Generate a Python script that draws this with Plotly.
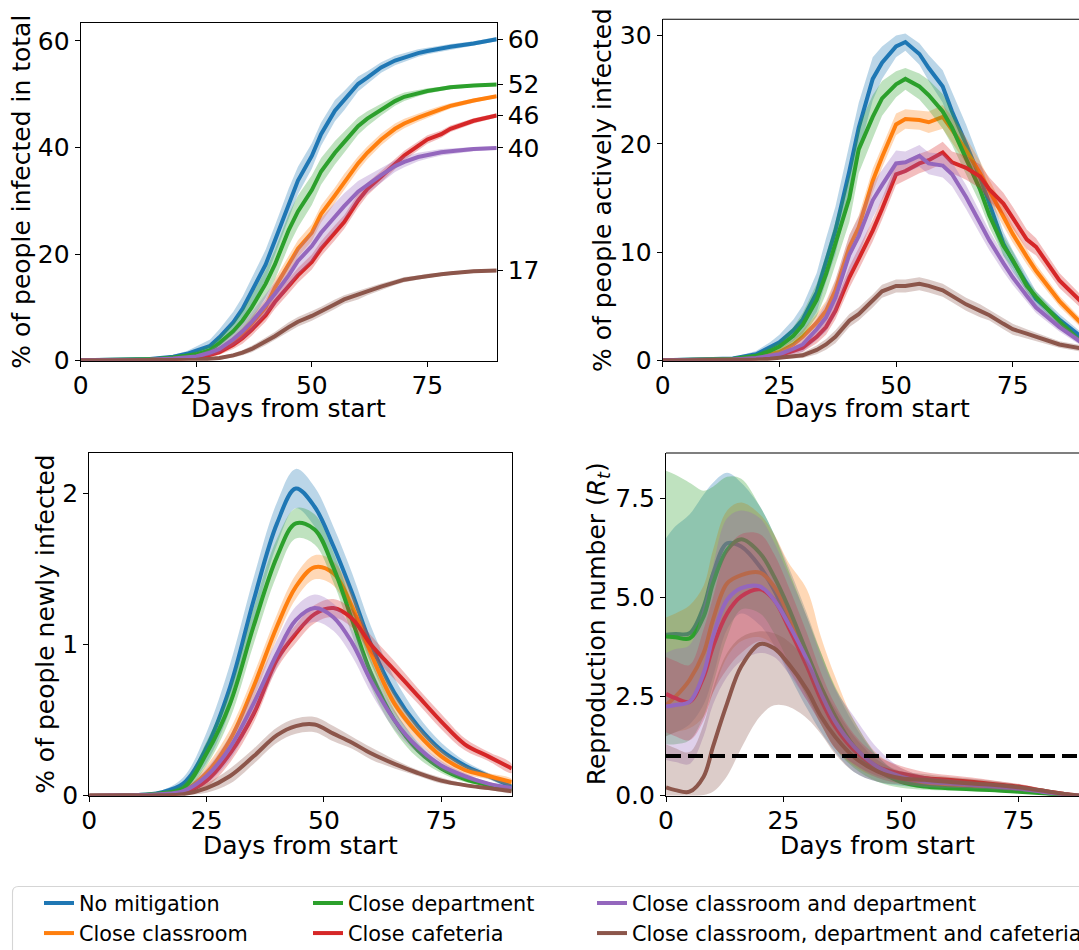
import plotly.graph_objects as go

W, H = 1079, 950
FONT = "DejaVu Sans"

NAMES = ["No mitigation", "Close classroom", "Close department", "Close cafeteria",
         "Close classroom and department", "Close classroom, department and cafeteria"]
COLORS = ["#1f77b4", "#ff7f0e", "#2ca02c", "#d62728", "#9467bd", "#8c564b"]
LEGEND_OF = ["legend", "legend", "legend2", "legend2", "legend3", "legend3"]

# ---------------- top row: total and active infections ----------------
DAYS_TOP = [0, 10, 15, 20, 23, 25, 28, 30, 33, 35, 37, 40, 42, 45, 47, 50, 52, 55, 57, 60,
            62, 65, 68, 70, 73, 75, 78, 80, 85, 90]

TOTAL_NO_MIT = [0.1, 0.15, 0.3, 0.75, 1.3, 1.9, 2.8, 4.4, 7.2, 9.7, 13, 18, 22.5, 29.5, 33.8, 38.4, 42.5, 46.9, 48.8, 51.9,
                53.1, 55, 56.3, 56.9, 57.7, 58.1, 58.6, 58.9, 59.5, 60.3]
TOTAL_CLASSROOM = [0.1, 0.1, 0.2, 0.35, 0.5, 0.6, 1.2, 1.8, 3.5, 5, 7, 10, 13.7, 18, 21, 24, 27.5, 31, 33.5, 37,
                   39, 41.5, 43.5, 44.5, 45.6, 46.3, 47.2, 47.8, 48.8, 49.6]
TOTAL_DEPT = [0.1, 0.12, 0.25, 0.6, 0.9, 1.2, 2.0, 3.3, 5.5, 7.5, 10, 14.4, 18, 24.5, 28, 32, 35.5, 39, 41, 44,
              45.4, 47.1, 48.7, 49.5, 50.2, 50.6, 51.0, 51.3, 51.6, 51.8]
TOTAL_CAFE = [0.1, 0.1, 0.15, 0.3, 0.45, 0.6, 1.1, 1.6, 3, 4.2, 5.8, 8.5, 11, 14, 16, 18.5, 21, 24, 26, 30,
              32.2, 34.5, 36.9, 38.5, 40.3, 41.5, 42.5, 43.5, 45, 46.0]
TOTAL_CLS_DEPT = [0.1, 0.1, 0.2, 0.4, 0.6, 0.8, 1.5, 2.2, 4, 5.5, 7.3, 10.5, 12.5, 16, 18.7, 21.5, 24, 27, 29, 31.7,
                  33, 34.8, 36.5, 37.3, 38.2, 38.6, 39.1, 39.3, 39.7, 39.9]
TOTAL_ALL = [0.05, 0.05, 0.08, 0.1, 0.15, 0.2, 0.35, 0.5, 1.0, 1.5, 2.2, 3.6, 4.6, 6.3, 7.3, 8.4, 9.2, 10.6, 11.5, 12.3,
             13.0, 13.9, 14.7, 15.2, 15.6, 15.9, 16.2, 16.4, 16.8, 16.9]

HW_TOTAL_NO_MIT = [0, 0.05, 0.1, 0.3, 0.5, 0.8, 1.2, 1.5, 2, 2.3, 2.5, 2.8, 2.8, 2.8, 2.6, 2.4, 2.2, 2, 1.8, 1.4,
                   1.2, 1, 0.9, 0.8, 0.7, 0.6, 0.5, 0.5, 0.4, 0.4]
HW_TOTAL_CLASSROOM = [0, 0.03, 0.05, 0.15, 0.25, 0.3, 0.5, 0.7, 1.0, 1.2, 1.3, 1.5, 1.6, 1.6, 1.6, 1.6, 1.6, 1.5, 1.5, 1.3,
                      1.2, 1.1, 1.0, 0.9, 0.8, 0.7, 0.6, 0.5, 0.4, 0.3]
HW_TOTAL_DEPT = [0, 0.05, 0.1, 0.3, 0.4, 0.6, 0.9, 1.2, 1.6, 2, 2.3, 2.6, 2.8, 3, 3, 2.8, 2.5, 2.2, 2, 1.6,
                 1.4, 1.1, 0.9, 0.8, 0.6, 0.5, 0.4, 0.4, 0.3, 0.3]
HW_TOTAL_CAFE = [0, 0.03, 0.05, 0.1, 0.15, 0.2, 0.4, 0.5, 0.8, 1.0, 1.1, 1.2, 1.3, 1.4, 1.4, 1.4, 1.4, 1.4, 1.3, 1.3,
                 1.2, 1.1, 1.0, 0.9, 0.8, 0.8, 0.7, 0.6, 0.5, 0.4]
HW_TOTAL_CLS_DEPT = [0, 0.03, 0.05, 0.15, 0.25, 0.3, 0.6, 0.8, 1.2, 1.5, 1.8, 2.0, 2.2, 2.4, 2.6, 2.8, 2.8, 2.6, 2.4, 2.0,
                     1.7, 1.4, 1.1, 1.0, 0.8, 0.7, 0.6, 0.5, 0.4, 0.3]
HW_TOTAL_ALL = [0, 0.02, 0.03, 0.05, 0.08, 0.1, 0.2, 0.3, 0.4, 0.5, 0.6, 0.7, 0.8, 0.9, 0.9, 0.9, 0.9, 0.9, 0.8, 0.8,
                0.7, 0.6, 0.5, 0.5, 0.4, 0.4, 0.3, 0.3, 0.3, 0.3]

ACTIVE_NO_MIT = [0.05, 0.1, 0.2, 0.6, 1.2, 1.7, 2.8, 3.8, 6.3, 9.3, 12, 17.5, 21.5, 26, 27.5, 29, 29.4, 28.3, 27, 25.3,
                 23, 20, 16.9, 14.5, 10.8, 9.2, 7.2, 5.7, 3.8, 2.1]
ACTIVE_CLASSROOM = [0.03, 0.05, 0.1, 0.3, 0.55, 0.8, 1.5, 2.2, 3.5, 4.6, 6.5, 10.5, 12.3, 16.6, 18.8, 21.8, 22.3, 22.2, 22, 22.5,
                    21.3, 19.4, 17.3, 15.7, 13.3, 11.7, 9.6, 8.3, 5.5, 3.3]
ACTIVE_DEPT = [0.05, 0.08, 0.15, 0.45, 0.9, 1.3, 2.3, 3.3, 5.6, 8, 10.8, 15, 19.5, 22.5, 24.2, 25.5, 26, 25.3, 24.5, 23,
               21.5, 18.7, 15.8, 13.4, 10.6, 9.3, 6.9, 5.9, 3.6, 1.6]
ACTIVE_CAFE = [0.03, 0.04, 0.08, 0.2, 0.35, 0.5, 0.9, 1.2, 2.2, 3.1, 4.6, 7.7, 9.4, 12, 14, 17.2, 17.5, 18.2, 18.5, 19.2,
               18.3, 17.8, 17, 15.8, 14.5, 13.2, 11.2, 10.5, 7.4, 5.3]
ACTIVE_CLS_DEPT = [0.03, 0.05, 0.1, 0.25, 0.45, 0.6, 1.1, 1.5, 2.9, 4, 5.8, 9.8, 11.5, 14.8, 16.2, 18.2, 18.3, 18.9, 18.2, 18,
                   17.2, 15.1, 12.7, 11.1, 9, 7.7, 6, 4.9, 3.1, 1.6]
ACTIVE_ALL = [0.02, 0.02, 0.04, 0.1, 0.17, 0.25, 0.4, 0.5, 1.0, 1.5, 2.2, 3.7, 4.3, 5.5, 6.4, 6.9, 6.9, 7.1, 6.9, 6.5,
              6, 5.2, 4.6, 4.2, 3.4, 2.9, 2.5, 2.2, 1.5, 1.1]

HW_ACTIVE_NO_MIT = [0, 0.05, 0.1, 0.3, 0.5, 0.7, 1, 1.3, 1.8, 2, 2.2, 2.3, 2.3, 2, 1.5, 1, 0.8, 1, 1.2, 1.5,
                    1.8, 1.8, 1.5, 1.3, 1.1, 1, 0.8, 0.7, 0.5, 0.4]
HW_ACTIVE_CLASSROOM = [0, 0.03, 0.05, 0.1, 0.2, 0.3, 0.5, 0.6, 0.8, 0.9, 1, 1.1, 1.1, 1.1, 1, 1, 0.9, 0.9, 1, 1.1,
                       1.2, 1.2, 1.1, 1, 0.9, 0.8, 0.7, 0.6, 0.5, 0.4]
HW_ACTIVE_DEPT = [0, 0.04, 0.08, 0.2, 0.4, 0.5, 0.8, 1.1, 1.5, 1.8, 2, 2.2, 2.2, 2, 1.6, 1.2, 1, 1.2, 1.4, 1.6,
                  1.6, 1.5, 1.3, 1.1, 0.9, 0.8, 0.6, 0.5, 0.4, 0.3]
HW_ACTIVE_CAFE = [0, 0.02, 0.04, 0.1, 0.15, 0.2, 0.3, 0.4, 0.6, 0.7, 0.8, 1, 1, 1, 1, 1, 0.9, 0.9, 0.9, 1,
                  1, 1.1, 1.1, 1.1, 1, 1, 0.9, 0.8, 0.7, 0.6]
HW_ACTIVE_CLS_DEPT = [0, 0.03, 0.05, 0.12, 0.2, 0.3, 0.5, 0.7, 1, 1.3, 1.6, 1.8, 1.8, 1.6, 1.4, 1.2, 1, 1, 1, 1.1,
                      1.1, 1.1, 1, 0.9, 0.8, 0.7, 0.6, 0.5, 0.4, 0.3]
HW_ACTIVE_ALL = [0, 0.01, 0.02, 0.05, 0.08, 0.1, 0.2, 0.25, 0.4, 0.5, 0.6, 0.6, 0.6, 0.6, 0.6, 0.6, 0.6, 0.6, 0.6, 0.6,
                 0.6, 0.6, 0.6, 0.5, 0.5, 0.5, 0.4, 0.4, 0.3, 0.3]

# ---------------- bottom left: newly infected ----------------
DAYS_NEW = [0, 5, 10, 15, 20, 25, 30, 35, 40, 44, 48, 52, 56, 60, 65, 70, 75, 80, 85, 90]
NEW_NO_MIT = [0, 0.002, 0.005, 0.02, 0.08, 0.32, 0.72, 1.29, 1.8, 2.03, 1.91, 1.65, 1.34, 1.0, 0.68, 0.46, 0.3, 0.2, 0.13, 0.06]
NEW_CLASSROOM = [0, 0.001, 0.003, 0.008, 0.03, 0.15, 0.37, 0.72, 1.12, 1.38, 1.51, 1.47, 1.25, 0.94, 0.61, 0.41, 0.26, 0.17, 0.13, 0.09]
NEW_DEPT = [0, 0.002, 0.004, 0.015, 0.05, 0.28, 0.61, 1.12, 1.58, 1.8, 1.76, 1.51, 1.16, 0.81, 0.5, 0.3, 0.18, 0.11, 0.07, 0.04]
NEW_CAFE = [0, 0.001, 0.002, 0.006, 0.02, 0.1, 0.28, 0.54, 0.9, 1.07, 1.2, 1.24, 1.17, 1.0, 0.83, 0.66, 0.49, 0.34, 0.26, 0.18]
NEW_CLS_DEPT = [0, 0.001, 0.003, 0.01, 0.03, 0.13, 0.32, 0.61, 0.94, 1.16, 1.24, 1.18, 1.01, 0.76, 0.5, 0.32, 0.2, 0.13, 0.08, 0.05]
NEW_ALL = [0, 0, 0.001, 0.003, 0.01, 0.05, 0.13, 0.26, 0.4, 0.46, 0.47, 0.41, 0.35, 0.28, 0.21, 0.15, 0.1, 0.07, 0.05, 0.03]

HW_NEW_NO_MIT = [0, 0.001, 0.003, 0.01, 0.04, 0.1, 0.15, 0.15, 0.14, 0.13, 0.13, 0.13, 0.13, 0.12, 0.1, 0.07, 0.05, 0.03, 0.02, 0.01]
HW_NEW_CLASSROOM = [0, 0, 0.001, 0.004, 0.015, 0.05, 0.07, 0.08, 0.08, 0.08, 0.08, 0.08, 0.08, 0.07, 0.06, 0.05, 0.04, 0.03, 0.02, 0.02]
HW_NEW_DEPT = [0, 0.001, 0.002, 0.008, 0.03, 0.08, 0.1, 0.12, 0.12, 0.1, 0.1, 0.1, 0.1, 0.09, 0.07, 0.05, 0.03, 0.02, 0.01, 0.01]
HW_NEW_CAFE = [0, 0, 0.001, 0.003, 0.01, 0.04, 0.06, 0.06, 0.06, 0.06, 0.06, 0.06, 0.06, 0.06, 0.06, 0.05, 0.05, 0.04, 0.03, 0.03]
HW_NEW_CLS_DEPT = [0, 0, 0.001, 0.005, 0.015, 0.05, 0.08, 0.09, 0.09, 0.09, 0.09, 0.09, 0.09, 0.08, 0.06, 0.04, 0.03, 0.02, 0.01, 0.01]
HW_NEW_ALL = [0, 0, 0, 0.002, 0.006, 0.03, 0.05, 0.05, 0.05, 0.05, 0.05, 0.05, 0.04, 0.04, 0.03, 0.02, 0.02, 0.01, 0.01, 0.01]

# ---------------- bottom right: reproduction number ----------------
DAYS_RT = [0, 2, 5, 8, 10, 13, 16, 20, 23, 26, 30, 33, 36, 40, 45, 50, 55, 60, 65, 70, 75, 80, 85, 88, 90]
RT_NO_MIT = [4.06, 4.08, 4.1, 4.77, 5.6, 6.37, 6.29, 5.78, 5.19, 4.44, 3.34, 2.5, 1.83, 1.15, 0.65, 0.4, 0.27, 0.21, 0.19, 0.16, 0.13, 0.08, 0.02, 0, 0]
RT_CLASSROOM = [2.29, 2.5, 2.92, 3.6, 4.44, 5.36, 5.57, 5.63, 5.28, 4.6, 3.51, 2.67, 1.91, 1.24, 0.73, 0.48, 0.33, 0.27, 0.23, 0.19, 0.14, 0.09, 0.03, 0, 0]
RT_DEPT = [4.02, 4.0, 3.97, 4.52, 5.36, 6.2, 6.47, 6.12, 5.53, 4.77, 3.6, 2.75, 2.0, 1.24, 0.65, 0.35, 0.23, 0.19, 0.16, 0.14, 0.1, 0.06, 0.01, 0, 0]
RT_CAFE = [2.57, 2.46, 2.37, 3.0, 3.76, 4.6, 5.03, 5.21, 4.94, 4.27, 3.26, 2.42, 1.74, 1.15, 0.73, 0.56, 0.45, 0.4, 0.35, 0.29, 0.23, 0.13, 0.04, 0, 0]
RT_CLS_DEPT = [2.25, 2.29, 2.37, 3.09, 4.02, 4.94, 5.24, 5.28, 4.94, 4.35, 3.43, 2.58, 1.87, 1.24, 0.73, 0.48, 0.35, 0.31, 0.27, 0.23, 0.18, 0.1, 0.03, 0, 0]
RT_ALL = [0.21, 0.14, 0.1, 0.48, 1.24, 2.33, 3.26, 3.83, 3.72, 3.34, 2.67, 2.0, 1.49, 0.98, 0.61, 0.44, 0.4, 0.35, 0.31, 0.27, 0.21, 0.13, 0.04, 0, 0]

RT_NO_MIT_HI = [6.5, 6.8, 7.1, 7.6, 7.9, 8.15, 7.9, 7.3, 6.6, 5.8, 4.6, 3.6, 2.7, 1.8, 1.0, 0.55, 0.35, 0.27, 0.24, 0.2, 0.17, 0.11, 0.04, 0, 0]
RT_NO_MIT_LO = [1.5, 1.6, 1.8, 2.3, 3.0, 4.2, 4.6, 4.3, 3.8, 3.1, 2.2, 1.6, 1.1, 0.6, 0.35, 0.25, 0.2, 0.16, 0.14, 0.12, 0.09, 0.05, 0, 0, 0]
RT_CLASSROOM_HI = [4.5, 4.6, 4.8, 5.3, 6.2, 7.2, 7.4, 7.1, 6.6, 5.9, 5.2, 4.0, 3.0, 1.9, 1.05, 0.7, 0.48, 0.38, 0.32, 0.26, 0.2, 0.13, 0.05, 0, 0]
RT_CLASSROOM_LO = [1.5, 1.6, 1.7, 2.0, 2.6, 3.5, 3.9, 4.0, 3.8, 3.3, 2.5, 1.8, 1.2, 0.75, 0.45, 0.3, 0.22, 0.18, 0.15, 0.12, 0.09, 0.05, 0.01, 0, 0]
RT_DEPT_HI = [8.2, 8.1, 7.9, 7.7, 7.8, 8.05, 8.0, 7.3, 6.6, 5.7, 4.5, 3.6, 2.75, 1.9, 1.0, 0.52, 0.3, 0.24, 0.2, 0.18, 0.13, 0.08, 0.02, 0, 0]
RT_DEPT_LO = [1.3, 1.3, 1.4, 2.0, 2.8, 4.0, 4.7, 4.6, 4.1, 3.4, 2.5, 1.8, 1.2, 0.7, 0.35, 0.2, 0.15, 0.13, 0.11, 0.1, 0.07, 0.04, 0, 0, 0]
RT_CAFE_HI = [3.5, 3.4, 3.3, 4.2, 5.0, 6.2, 6.6, 6.6, 6.1, 5.3, 4.1, 3.1, 2.3, 1.55, 1.0, 0.75, 0.6, 0.52, 0.46, 0.38, 0.3, 0.18, 0.06, 0, 0]
RT_CAFE_LO = [1.6, 1.5, 1.4, 1.9, 2.6, 3.2, 3.6, 3.9, 3.7, 3.2, 2.4, 1.8, 1.2, 0.8, 0.5, 0.38, 0.3, 0.28, 0.24, 0.2, 0.16, 0.08, 0.02, 0, 0]
RT_CLS_DEPT_HI = [3.6, 3.7, 3.8, 4.8, 5.8, 7.0, 7.2, 7.0, 6.4, 5.6, 4.5, 3.5, 2.7, 2.0, 1.2, 0.7, 0.5, 0.42, 0.36, 0.3, 0.24, 0.14, 0.05, 0, 0]
RT_CLS_DEPT_LO = [0.9, 0.85, 0.8, 1.5, 2.3, 3.0, 3.4, 3.6, 3.5, 3.1, 2.4, 1.8, 1.2, 0.8, 0.45, 0.3, 0.22, 0.2, 0.18, 0.15, 0.12, 0.06, 0.01, 0, 0]
RT_ALL_HI = [1.3, 1.2, 1.1, 1.8, 2.7, 3.6, 4.0, 4.15, 4.1, 3.9, 3.4, 2.8, 2.2, 1.5, 0.9, 0.62, 0.55, 0.48, 0.43, 0.37, 0.29, 0.18, 0.06, 0, 0]
RT_ALL_LO = [0, 0, 0, 0.02, 0.1, 0.5, 1.2, 2.0, 2.28, 2.25, 1.95, 1.55, 1.05, 0.6, 0.35, 0.28, 0.25, 0.22, 0.2, 0.17, 0.13, 0.07, 0.01, 0, 0]
RT_THRESHOLD = 1.0

X_TICKS = [0, 25, 50, 75]


def rgba(hexcol, a):
    h = hexcol.lstrip("#")
    return "rgba(%d,%d,%d,%.2f)" % (int(h[0:2], 16), int(h[2:4], 16), int(h[4:6], 16), a)


fig = go.Figure()


def add_series(xs, mean, lo, hi, i, xa, ya, shape, showlegend):
    color = COLORS[i]
    fig.add_trace(go.Scatter(
        x=list(xs) + list(xs)[::-1], y=list(hi) + list(lo)[::-1], fill="toself",
        fillcolor=rgba(color, 0.3), mode="lines", line=dict(width=0, shape=shape, color=rgba(color, 0)),
        hoverinfo="skip", showlegend=False, xaxis=xa, yaxis=ya))
    fig.add_trace(go.Scatter(
        x=xs, y=mean, mode="lines", line=dict(color=color, width=4, shape=shape),
        name=NAMES[i], showlegend=showlegend, legend=LEGEND_OF[i], xaxis=xa, yaxis=ya))


def sym(mean, hw):
    return [m - h for m, h in zip(mean, hw)], [m + h for m, h in zip(mean, hw)]


TOTAL = [TOTAL_NO_MIT, TOTAL_CLASSROOM, TOTAL_DEPT, TOTAL_CAFE, TOTAL_CLS_DEPT, TOTAL_ALL]
HW_TOTAL = [HW_TOTAL_NO_MIT, HW_TOTAL_CLASSROOM, HW_TOTAL_DEPT, HW_TOTAL_CAFE, HW_TOTAL_CLS_DEPT, HW_TOTAL_ALL]
ACTIVE = [ACTIVE_NO_MIT, ACTIVE_CLASSROOM, ACTIVE_DEPT, ACTIVE_CAFE, ACTIVE_CLS_DEPT, ACTIVE_ALL]
HW_ACTIVE = [HW_ACTIVE_NO_MIT, HW_ACTIVE_CLASSROOM, HW_ACTIVE_DEPT, HW_ACTIVE_CAFE, HW_ACTIVE_CLS_DEPT, HW_ACTIVE_ALL]
NEW = [NEW_NO_MIT, NEW_CLASSROOM, NEW_DEPT, NEW_CAFE, NEW_CLS_DEPT, NEW_ALL]
HW_NEW = [HW_NEW_NO_MIT, HW_NEW_CLASSROOM, HW_NEW_DEPT, HW_NEW_CAFE, HW_NEW_CLS_DEPT, HW_NEW_ALL]
RT = [RT_NO_MIT, RT_CLASSROOM, RT_DEPT, RT_CAFE, RT_CLS_DEPT, RT_ALL]
RT_LO = [RT_NO_MIT_LO, RT_CLASSROOM_LO, RT_DEPT_LO, RT_CAFE_LO, RT_CLS_DEPT_LO, RT_ALL_LO]
RT_HI = [RT_NO_MIT_HI, RT_CLASSROOM_HI, RT_DEPT_HI, RT_CAFE_HI, RT_CLS_DEPT_HI, RT_ALL_HI]

for i in range(6):
    lo, hi = sym(TOTAL[i], HW_TOTAL[i])
    add_series(DAYS_TOP, TOTAL[i], lo, hi, i, "x", "y", "linear", True)
for i in range(6):
    lo, hi = sym(ACTIVE[i], HW_ACTIVE[i])
    add_series(DAYS_TOP, ACTIVE[i], lo, hi, i, "x2", "y2", "linear", False)
for i in range(6):
    lo, hi = sym(NEW[i], HW_NEW[i])
    add_series(DAYS_NEW, NEW[i], lo, hi, i, "x3", "y3", "spline", False)
for i in range(6):
    add_series(DAYS_RT, RT[i], RT_LO[i], RT_HI[i], i, "x4", "y4", "spline", False)

fig.add_trace(go.Scatter(x=[DAYS_RT[0], DAYS_RT[-1]], y=[RT_THRESHOLD, RT_THRESHOLD], mode="lines",
                         line=dict(color="black", width=4, dash="15px,7px"), showlegend=False,
                         hoverinfo="skip", xaxis="x4", yaxis="y4"))

# final totals, used for the right-hand tick labels of the first panel
TOTAL_FINAL = [TOTAL_NO_MIT[-1], TOTAL_DEPT[-1], TOTAL_CAFE[-1], TOTAL_CLS_DEPT[-1], TOTAL_ALL[-1]]
fig.add_trace(go.Scatter(x=[DAYS_TOP[-1]] * len(TOTAL_FINAL), y=TOTAL_FINAL, mode="markers",
                         marker=dict(size=1, opacity=0), showlegend=False, hoverinfo="skip",
                         xaxis="x", yaxis="y5"))

# ---------------- geometry (pixels) ----------------
TL = dict(x0=80.7, x1=496.7, y0=22.7, y1=360.7)
TR = dict(x0=662.7, x1=1079, y0=19.3, y1=360.7)
BL = dict(x0=89.3, x1=511.7, y0=453.0, y1=795.7)
BR = dict(x0=666.0, x1=1079, y0=453.0, y1=795.7)
TR_PX_PER_DAY = 4.667
BR_PX_PER_DAY = 4.70


def dx(b):
    return [b["x0"] / W, b["x1"] / W]


def dy(b):
    return [1 - b["y1"] / H, 1 - b["y0"] / H]


tickfont = dict(family=FONT, size=25, color="black")
common_x = dict(showgrid=False, zeroline=False, showline=True, linecolor="black", linewidth=1.1,
                ticks="outside", ticklen=5, tickwidth=1.1, tickcolor="black", tickfont=tickfont,
                tickvals=X_TICKS, automargin=False, fixedrange=True, ticklabelstandoff=-3)
common_y = dict(showgrid=False, zeroline=False, showline=True, linecolor="black", linewidth=1.1,
                ticks="outside", ticklen=5, tickwidth=1.1, tickcolor="black", tickfont=tickfont,
                automargin=False, fixedrange=True)

fig.update_layout(
    width=W, height=H, margin=dict(l=0, r=0, t=0, b=0, autoexpand=False), autosize=False,
    paper_bgcolor="white", plot_bgcolor="rgba(0,0,0,0)",
    font=dict(family=FONT, color="black"),
    xaxis=dict(common_x, domain=dx(TL), range=[0, 90], anchor="y", mirror=True),
    yaxis=dict(common_y, domain=dy(TL), range=[0, 63.4], anchor="x", mirror=True, tickvals=[0, 20, 40, 60]),
    yaxis5=dict(common_y, overlaying="y", side="right", anchor="x", range=[0, 63.4], showline=False,
                tickvals=TOTAL_FINAL, ticktext=["%d" % round(v) for v in TOTAL_FINAL]),
    xaxis2=dict(common_x, domain=dx(TR), range=[0, (TR["x1"] - TR["x0"]) / TR_PX_PER_DAY], anchor="y2"),
    yaxis2=dict(common_y, domain=dy(TR), range=[0, 31.5], anchor="x2", tickvals=[0, 10, 20, 30]),
    xaxis3=dict(common_x, domain=dx(BL), range=[0, 90], anchor="y3", mirror=True),
    yaxis3=dict(common_y, domain=dy(BL), range=[0, 2.265], anchor="x3", mirror=True, tickvals=[0, 1, 2]),
    xaxis4=dict(common_x, domain=dx(BR), range=[0, (BR["x1"] - BR["x0"]) / BR_PX_PER_DAY], anchor="y4"),
    yaxis4=dict(common_y, domain=dy(BR), range=[0, 8.65], anchor="x4", tickvals=[0, 2.5, 5, 7.5],
                tickformat=".1f"),
)

# top spines of the right-hand panels (their right spine lies outside the picture)
shapes = []
for b in (TR, BR):
    shapes.append(dict(type="line", xref="paper", yref="paper", x0=b["x0"] / W, x1=1.0,
                       y0=1 - b["y0"] / H, y1=1 - b["y0"] / H, line=dict(color="black", width=1.1)))

# legend frame (rounded, runs off the right and bottom edges)
lx0, lx1, ly0, ly1, r = 12.5, 1110, 886.5, 990, 6


def P(x, y):
    return "%.5f,%.5f" % (x / W, 1 - y / H)


path = ("M" + P(lx0 + r, ly0) + " L" + P(lx1 - r, ly0) + " Q" + P(lx1, ly0) + " " + P(lx1, ly0 + r) +
        " L" + P(lx1, ly1 - r) + " Q" + P(lx1, ly1) + " " + P(lx1 - r, ly1) +
        " L" + P(lx0 + r, ly1) + " Q" + P(lx0, ly1) + " " + P(lx0, ly1 - r) +
        " L" + P(lx0, ly0 + r) + " Q" + P(lx0, ly0) + " " + P(lx0 + r, ly0) + " Z")
shapes.append(dict(type="path", xref="paper", yref="paper", path=path,
                   line=dict(color="#d5d5d5", width=1.1), fillcolor="rgba(255,255,255,0.8)", layer="below"))
fig.update_layout(shapes=shapes)

# legends: three columns
legfont = dict(family=FONT, size=20.8, color="black")
LEG_X = [39, 308, 592]
for key, lx in zip(["legend", "legend2", "legend3"], LEG_X):
    fig.update_layout({key: dict(x=lx / W, y=1 - 883 / H, xanchor="left", yanchor="top",
                                 orientation="v", font=legfont, bgcolor="rgba(0,0,0,0)",
                                 borderwidth=0, tracegroupgap=0, itemwidth=30, itemclick=False,
                                 itemdoubleclick=False)})

# axis titles
titlefont = dict(family=FONT, size=25, color="black")
ann = []
YT = [("% of people infected in total", 22, TL), ("% of people actively infected", 603, TR),
      ("% of people newly infected", 45.5, BL), ("Reproduction number (<i>R</i><sub><i>t</i></sub>)", 598, BR)]
for text, xc, b in YT:
    ann.append(dict(text=text, x=xc / W, y=1 - (b["y0"] + b["y1"]) / 2 / H, xref="paper", yref="paper",
                    textangle=-90, xanchor="center", yanchor="middle", showarrow=False, font=titlefont))
XT = [(288.7, 409), (872.7, 409), (300.5, 845), (877.5, 845)]
for xc, yc in XT:
    ann.append(dict(text="Days from start", x=xc / W, y=1 - yc / H, xref="paper", yref="paper",
                    xanchor="center", yanchor="middle", showarrow=False, font=titlefont))
fig.update_layout(annotations=ann)

fig.write_html("out.html")
